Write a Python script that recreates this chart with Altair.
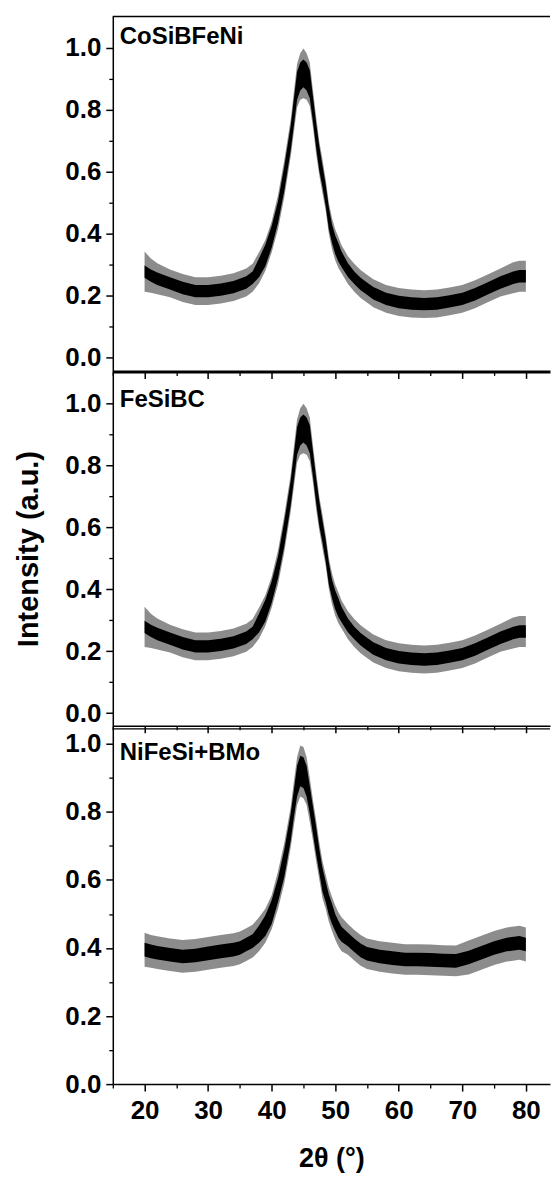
import altair as alt
import pandas as pd

FONT = "Liberation Sans"

# ---- CoSiBFeNi and FeSiBC traces (identical in the picture) ----
# centre of the noisy trace, half-height of its dense core, half-height of its spikes
X_A = [20, 21, 22, 24, 26, 28, 30, 32, 34, 36, 37, 38, 39, 40, 41, 42, 43, 44, 44.5, 45,
       45.5, 46, 46.5, 47, 47.5, 48, 48.5, 49, 49.5, 50, 50.5, 51, 52, 53, 54, 55, 56, 58,
       60, 62, 64, 66, 68, 70, 72, 74, 76, 78, 79, 80]
C_A = [0.278, 0.265, 0.255, 0.24, 0.225, 0.215, 0.215, 0.22, 0.228, 0.243, 0.258, 0.29, 0.33,
       0.39, 0.47, 0.58, 0.71, 0.878, 0.908, 0.918, 0.908, 0.883, 0.803, 0.718, 0.643, 0.585,
       0.525, 0.45, 0.40, 0.365, 0.34, 0.318, 0.283, 0.258, 0.238, 0.223, 0.208, 0.19, 0.18,
       0.175, 0.173, 0.175, 0.182, 0.19, 0.205, 0.224, 0.243, 0.258, 0.263, 0.263]
CORE_A = [0.02, 0.02, 0.02, 0.02, 0.02, 0.02, 0.02, 0.02, 0.02, 0.02, 0.02,
          0.03, 0.035, 0.035, 0.035, 0.04, 0.04, 0.045, 0.045, 0.045, 0.045, 0.045, 0.04,
          0.04, 0.04, 0.035, 0.035, 0.035, 0.03, 0.03, 0.03, 0.025, 0.022,
          0.02, 0.02, 0.02, 0.02, 0.02, 0.02, 0.02, 0.02, 0.02, 0.02, 0.02, 0.02, 0.02, 0.02,
          0.02, 0.02, 0.02]
SPIKE_A = [0.065, 0.055, 0.05, 0.045, 0.045, 0.045, 0.045, 0.045, 0.045, 0.045, 0.045,
           0.05, 0.05, 0.05, 0.055, 0.06, 0.06, 0.07, 0.075, 0.08, 0.075, 0.07, 0.06, 0.06,
           0.055, 0.055, 0.05, 0.05, 0.05, 0.05, 0.05, 0.045, 0.045,
           0.045, 0.045, 0.045, 0.045, 0.045, 0.045, 0.045, 0.045, 0.045, 0.045, 0.045, 0.045,
           0.045, 0.045, 0.05, 0.05, 0.05]

# ---- NiFeSi+BMo trace ----
X_C = [20, 21, 22, 24, 26, 28, 30, 32, 34, 35, 36, 37, 38, 39, 40, 41, 42, 43, 43.5, 44, 44.5,
       45, 45.5, 46, 46.5, 47, 47.5, 48, 48.5, 49, 49.5, 50, 50.5, 51, 52, 53, 54, 55, 57, 59,
       61, 63, 65, 67, 69, 71, 73, 75, 77, 79, 80]
C_C = [0.395, 0.39, 0.386, 0.38, 0.375, 0.378, 0.384, 0.39, 0.395, 0.40, 0.41, 0.42, 0.44,
       0.465, 0.505, 0.57, 0.65, 0.755, 0.825, 0.89, 0.92, 0.915, 0.89, 0.835, 0.775, 0.715,
       0.655, 0.60, 0.565, 0.527, 0.50, 0.475, 0.455, 0.44, 0.425, 0.408, 0.393, 0.383, 0.375,
       0.37, 0.366, 0.366, 0.365, 0.363, 0.362, 0.372, 0.386, 0.40, 0.41, 0.415, 0.41]
CORE_C = [0.02, 0.02, 0.02, 0.02, 0.02, 0.02, 0.02, 0.02, 0.02, 0.02, 0.02, 0.02,
          0.025, 0.03, 0.035, 0.035, 0.04, 0.04, 0.04, 0.045, 0.045, 0.045, 0.045, 0.04, 0.04,
          0.04, 0.035, 0.035, 0.03, 0.03, 0.03, 0.025, 0.025, 0.022,
          0.02, 0.02, 0.02, 0.02, 0.02, 0.02, 0.02, 0.02, 0.02, 0.02, 0.02, 0.02, 0.02, 0.02,
          0.02, 0.02, 0.02]
SPIKE_C = [0.05, 0.048, 0.048, 0.048, 0.048, 0.048, 0.048, 0.048, 0.048, 0.048, 0.048, 0.048,
           0.05, 0.05, 0.05, 0.055, 0.06, 0.06, 0.065, 0.07, 0.075, 0.075, 0.07, 0.065, 0.06,
           0.06, 0.055, 0.055, 0.05, 0.05, 0.05, 0.05, 0.05, 0.05,
           0.045, 0.045, 0.045, 0.045, 0.045, 0.045, 0.045, 0.045, 0.045, 0.045, 0.045, 0.05,
           0.05, 0.05, 0.05, 0.05, 0.05]

LABELS = ["CoSiBFeNi", "FeSiBC", "NiFeSi+BMo"]
X_MAJOR = [20, 30, 40, 50, 60, 70, 80]
X_MINOR = [15, 25, 35, 45, 55, 65, 75]
Y_MAJOR = [0, 0.2, 0.4, 0.6, 0.8, 1.0]
Y_MINOR = [0.1, 0.3, 0.5, 0.7, 0.9]

W = 438
X_DOMAIN = [15, 83.8]


def table(xs, c, core, spike):
    return pd.DataFrame({
        "x": xs,
        "lo": [a - b for a, b in zip(c, core)],
        "hi": [a + b for a, b in zip(c, core)],
        "lo2": [a - b for a, b in zip(c, spike)],
        "hi2": [a + b for a, b in zip(c, spike)],
    })


def panel(label, df, ydom, height, label_y, xlabels, ytitle,
          bottom_w, top_line_y=None, top_w=1.5):
    xsc = alt.Scale(domain=X_DOMAIN, nice=False, zero=False)
    ysc = alt.Scale(domain=ydom, nice=False, zero=False)

    xaxis_kw = dict(values=X_MAJOR, tickSize=7, tickWidth=1.5, domainWidth=bottom_w,
                    labels=xlabels, grid=False, orient="bottom")
    if xlabels:
        xaxis_kw.update(labelFontSize=26, labelPadding=6, title="2θ (°)",
                        titleFontSize=27, titlePadding=23)
    else:
        xaxis_kw.update(title=None)
    yaxis_kw = dict(values=Y_MAJOR, format=".1f", tickSize=7, tickWidth=1.5, domainWidth=1.5,
                    labelFontSize=26, labelPadding=5, grid=False, orient="left")
    if ytitle:
        yaxis_kw.update(title=ytitle, titleFontSize=29, titlePadding=21)
    else:
        yaxis_kw.update(title=None)

    outer = alt.Chart(df).mark_area(color="black", opacity=0.45).encode(
        x=alt.X("x:Q", scale=xsc, axis=alt.Axis(**xaxis_kw)),
        y=alt.Y("lo2:Q", scale=ysc, axis=alt.Axis(**yaxis_kw)),
        y2="hi2:Q",
    )
    inner = alt.Chart(df).mark_area(color="black", opacity=1).encode(
        x=alt.X("x:Q", scale=xsc, axis=alt.Axis(values=X_MINOR, tickSize=4, tickWidth=1.3,
                                                 labels=False, domain=False, grid=False,
                                                 title=None, orient="bottom")),
        y=alt.Y("lo:Q", scale=ysc, axis=alt.Axis(values=Y_MINOR, tickSize=4, tickWidth=1.3,
                                                  labels=False, domain=False, grid=False,
                                                  title=None, orient="left")),
        y2="hi:Q",
    )
    txt = alt.Chart(pd.DataFrame({"t": [label]})).mark_text(
        align="left", baseline="alphabetic", font=FONT, fontSize=24, fontWeight="bold",
        color="black"
    ).encode(x=alt.value(7), y=alt.value(label_y), text="t:N")
    layers = [outer, inner, txt]
    if top_line_y is not None:
        rule = alt.Chart(pd.DataFrame({"a": [0]})).mark_rule(
            color="black", strokeWidth=top_w
        ).encode(x=alt.value(0), x2=alt.value(W), y=alt.value(top_line_y))
        layers.append(rule)
    return alt.layer(*layers).resolve_axis(x="independent", y="independent").properties(
        width=W, height=height
    )


df_a = table(X_A, C_A, CORE_A, SPIKE_A)
df_c = table(X_C, C_C, CORE_C, SPIKE_C)

p1 = panel(LABELS[0], df_a, [-0.0441, 1.1031], 356, 27.7,
           False, None, 3, top_line_y=0.5, top_w=1.5)
p2 = panel(LABELS[1], df_a, [-0.0409, 1.102], 355, 35.7,
           False, "Intensity (a.u.)", 1.3)
p3 = panel(LABELS[2], df_c, [0, 1.0528], 359, 34,
           True, None, 1.5, top_line_y=3.2, top_w=1.3)

chart = alt.vconcat(p1, p2, p3, spacing=0, bounds="flush").properties(
    padding={"left": 14, "top": 14, "right": 0, "bottom": 0}
).configure_view(stroke=None).configure_axis(
    labelFont=FONT, titleFont=FONT, labelFontWeight="bold", titleFontWeight="bold",
    labelColor="black", titleColor="black", domainColor="black", tickColor="black",
)

chart.save("out.html", embed_options={"renderer": "svg", "actions": False})
